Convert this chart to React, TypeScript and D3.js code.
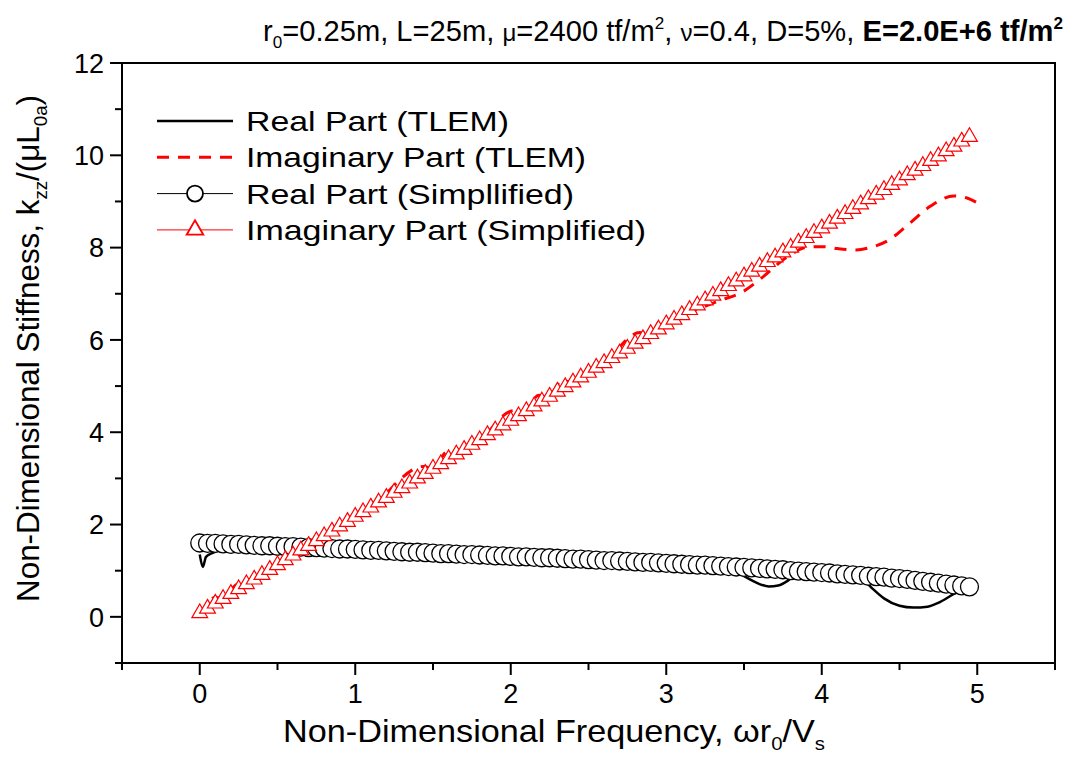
import React, { useEffect } from 'react';
import * as d3 from 'd3';

// simplified solution, one marker every 0.05 in frequency (0 ... 4.95)
const FREQ_STEP = 0.05;
const realSimplified = [
  1.60, 1.59, 1.59, 1.58, 1.57, 1.57, 1.56, 1.55, 1.54, 1.54,
  1.53, 1.52, 1.52, 1.51, 1.50, 1.50, 1.49, 1.48, 1.47, 1.47,
  1.46, 1.45, 1.44, 1.44, 1.43, 1.42, 1.41, 1.40, 1.40, 1.39,
  1.38, 1.37, 1.37, 1.36, 1.35, 1.35, 1.34, 1.33, 1.32, 1.32,
  1.31, 1.30, 1.30, 1.29, 1.28, 1.28, 1.27, 1.26, 1.25, 1.25,
  1.24, 1.23, 1.22, 1.22, 1.21, 1.20, 1.19, 1.18, 1.18, 1.17,
  1.16, 1.15, 1.14, 1.13, 1.12, 1.12, 1.11, 1.10, 1.09, 1.08,
  1.07, 1.06, 1.05, 1.04, 1.03, 1.02, 1.00, 0.99, 0.98, 0.97,
  0.96, 0.95, 0.93, 0.92, 0.91, 0.90, 0.88, 0.87, 0.86, 0.84,
  0.83, 0.81, 0.79, 0.77, 0.75, 0.73, 0.71, 0.69, 0.67, 0.65,
];
const imagSimplified = [
  0.08, 0.18, 0.29, 0.39, 0.50, 0.60, 0.71, 0.81, 0.91, 1.02,
  1.12, 1.23, 1.33, 1.44, 1.54, 1.64, 1.75, 1.85, 1.96, 2.06,
  2.17, 2.27, 2.37, 2.48, 2.58, 2.69, 2.79, 2.89, 3.00, 3.10,
  3.21, 3.31, 3.42, 3.52, 3.62, 3.73, 3.83, 3.94, 4.04, 4.15,
  4.25, 4.35, 4.46, 4.56, 4.67, 4.77, 4.88, 4.98, 5.08, 5.19,
  5.29, 5.40, 5.50, 5.61, 5.71, 5.81, 5.92, 6.02, 6.13, 6.23,
  6.34, 6.44, 6.54, 6.65, 6.75, 6.86, 6.96, 7.06, 7.17, 7.27,
  7.38, 7.48, 7.59, 7.69, 7.79, 7.90, 8.00, 8.11, 8.21, 8.32,
  8.42, 8.52, 8.63, 8.73, 8.84, 8.94, 9.05, 9.15, 9.25, 9.36,
  9.46, 9.57, 9.67, 9.77, 9.88, 9.98, 10.09, 10.19, 10.30, 10.40,
];

// TLEM curves
const realTlemX = [0, 0.02, 0.04, 0.08, 0.13, 0.2, 0.3, 0.5, 1.0, 1.5, 2.0, 2.5, 2.7, 2.8, 2.9, 3.0, 3.3, 3.4,
  3.48, 3.55, 3.6, 3.66, 3.72, 3.78, 3.84, 3.9, 4.0, 4.2, 4.27, 4.33, 4.4, 4.5, 4.59, 4.68, 4.76, 4.86, 4.93, 5.0];
const realTlemY = [1.35, 1.08, 1.30, 1.38, 1.45, 1.58, 1.58, 1.53, 1.46, 1.38, 1.31, 1.24, 1.21, 1.15, 1.17, 1.16, 1.11, 1.06,
  0.92, 0.79, 0.71, 0.66, 0.68, 0.78, 0.95, 0.99, 0.96, 0.91, 0.80, 0.60, 0.40, 0.24, 0.20, 0.22, 0.32, 0.52, 0.66, 0.68];
const imagTlemX = [0, 0.1, 0.15, 0.24, 0.3, 0.5, 0.8, 1.1, 1.44, 1.5, 1.59, 1.65, 1.8, 2.02, 2.08, 2.18, 2.24, 2.33, 2.4,
  2.6, 2.83, 2.9, 2.97, 3.03, 3.1, 3.22, 3.35, 3.49, 3.62, 3.77, 3.91, 4.01, 4.1, 4.22, 4.32, 4.42, 4.56, 4.7, 4.85, 4.93, 5.0];
const imagTlemY = [0.03, 0.42, 0.41, 0.70, 0.71, 1.12, 1.75, 2.37, 3.26, 3.21, 3.57, 3.52, 3.83, 4.47, 4.42, 4.80, 4.75, 5.12, 5.08,
  5.50, 6.16, 6.13, 6.45, 6.40, 6.52, 6.69, 6.86, 7.04, 7.36, 7.78, 8.01, 8.02, 7.98, 7.95, 8.01, 8.14, 8.51, 8.90, 9.12, 9.08, 8.97];

const xTicks = [0, 1, 2, 3, 4, 5];
const xMinor = [-0.5, 0.5, 1.5, 2.5, 3.5, 4.5, 5.5];
const yTicks = [0, 2, 4, 6, 8, 10, 12];
const yMinor = [-1, 1, 3, 5, 7, 9, 11];

const legendLabels = ['Real Part (TLEM)', 'Imaginary Part (TLEM)', 'Real Part (Simpllified)', 'Imaginary Part (Simplified)'];
const legendLengths = [263, 340, 328, 400];

const FONT = "'Liberation Sans', Arial, sans-serif";

export default function App() {
  useEffect(() => {
    document.body.style.margin = '0';
  }, []);

  const x = d3.scaleLinear().domain([-0.5, 5.5]).range([122, 1055]);
  const y = d3.scaleLinear().domain([-1, 12]).range([663, 63]);

  const line = d3.line<[number, number]>()
    .x(d => x(d[0]))
    .y(d => y(d[1]))
    .curve(d3.curveMonotoneX);

  const realTlem = realTlemX.map((v, i) => [v, realTlemY[i]] as [number, number]);
  const imagTlem = imagTlemX.map((v, i) => [v, imagTlemY[i]] as [number, number]);
  const tri = d3.symbol(d3.symbolTriangle, 108)() as string;
  const triLegend = d3.symbol(d3.symbolTriangle, 120)() as string;

  const legendY = (i: number) => 121 + i * 36.3;

  return (
    <svg width={1069} height={757} style={{ display: 'block', background: '#fff' }} fontFamily={FONT}>
      {/* title */}
      <text x={263} y={41} fontSize={29} textLength={800} lengthAdjust="spacingAndGlyphs">
        r<tspan fontSize={17} dy={7}>0</tspan>
        <tspan dy={-7}>=0.25m, L=25m, </tspan>
        <tspan fontSize={24}>μ</tspan>
        <tspan>=2400 tf/m</tspan>
        <tspan fontSize={17} dy={-12}>2</tspan>
        <tspan dy={12}>, </tspan>
        <tspan fontSize={24}>ν</tspan>
        <tspan>=0.4, D=5%, </tspan>
        <tspan fontWeight="bold">E=2.0E+6 tf/m</tspan>
        <tspan fontWeight="bold" fontSize={17} dy={-12}>2</tspan>
      </text>

      {/* TLEM lines */}
      <path d={line(realTlem) || ''} fill="none" stroke="#000" strokeWidth={2.5} />
      <path d={line(imagTlem) || ''} fill="none" stroke="#ff0000" strokeWidth={3} strokeDasharray="12,9" />

      {/* simplified markers */}
      {realSimplified.map((v, i) => (
        <circle key={'c' + i} cx={x(i * FREQ_STEP)} cy={y(v)} r={9} fill="#fff" stroke="#000" strokeWidth={1.3} />
      ))}
      {imagSimplified.map((v, i) => (
        <path key={'t' + i} d={tri} transform={`translate(${x(i * FREQ_STEP)},${y(v)})`}
          fill="#fff" stroke="#ff0000" strokeWidth={1.2} />
      ))}

      {/* frame */}
      <rect x={122} y={63} width={933} height={600} fill="none" stroke="#000" strokeWidth={2} />

      {/* x axis ticks */}
      {xTicks.map(t => (
        <g key={'xt' + t}>
          <line x1={x(t)} x2={x(t)} y1={663} y2={675} stroke="#000" strokeWidth={2} />
          <text x={x(t)} y={703} fontSize={27} textAnchor="middle">{t}</text>
        </g>
      ))}
      {xMinor.map(t => (
        <line key={'xm' + t} x1={x(t)} x2={x(t)} y1={663} y2={670} stroke="#000" strokeWidth={2} />
      ))}

      {/* y axis ticks */}
      {yTicks.map(t => (
        <g key={'yt' + t}>
          <line x1={110} x2={122} y1={y(t)} y2={y(t)} stroke="#000" strokeWidth={2} />
          <text x={104} y={y(t)} dy="0.36em" fontSize={27} textAnchor="end">{t}</text>
        </g>
      ))}
      {yMinor.map(t => (
        <line key={'ym' + t} x1={115} x2={122} y1={y(t)} y2={y(t)} stroke="#000" strokeWidth={2} />
      ))}

      {/* axis titles */}
      <text x={283} y={742} fontSize={32} textLength={542} lengthAdjust="spacingAndGlyphs">
        Non-Dimensional Frequency, ωr<tspan fontSize={19} dy={8}>0</tspan>
        <tspan dy={-8}>/V</tspan>
        <tspan fontSize={19} dy={8}>s</tspan>
      </text>
      <text transform="translate(39,602) rotate(-90)" fontSize={32} textLength={507} lengthAdjust="spacingAndGlyphs">
        Non-Dimensional Stiffness, k<tspan fontSize={19} dy={8}>zz</tspan>
        <tspan dy={-8}>/(μL</tspan>
        <tspan fontSize={19} dy={8}>0a</tspan>
        <tspan dy={-8}>)</tspan>
      </text>

      {/* legend */}
      <line x1={157} x2={233} y1={legendY(0)} y2={legendY(0)} stroke="#000" strokeWidth={2.5} />
      <line x1={157} x2={233} y1={legendY(1)} y2={legendY(1)} stroke="#ff0000" strokeWidth={3} strokeDasharray="12,9" />
      <line x1={157} x2={233} y1={legendY(2)} y2={legendY(2)} stroke="#000" strokeWidth={1} />
      <circle cx={195} cy={legendY(2)} r={8} fill="#fff" stroke="#000" strokeWidth={1.8} />
      <line x1={157} x2={233} y1={legendY(3)} y2={legendY(3)} stroke="#ff0000" strokeWidth={1} />
      <path d={triLegend} transform={`translate(195,${legendY(3)})`} fill="#fff" stroke="#ff0000" strokeWidth={1.8} />
      {legendLabels.map((l, i) => (
        <text key={l} x={246} y={legendY(i) + 10} fontSize={28} textLength={legendLengths[i]} lengthAdjust="spacingAndGlyphs">{l}</text>
      ))}
    </svg>
  );
}
